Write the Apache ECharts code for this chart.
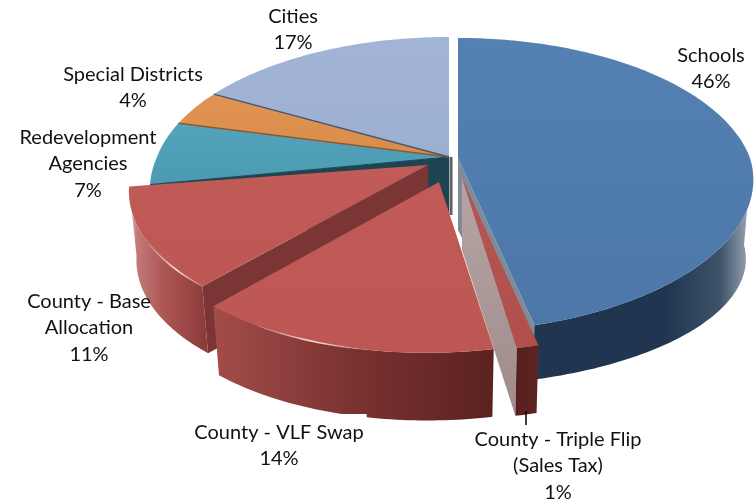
<!DOCTYPE html>
<html><head><meta charset="utf-8">
<style>html,body{margin:0;padding:0;background:#fff}#c{width:755px;height:504px}</style>
<script src="https://cdn.jsdelivr.net/npm/echarts@6/dist/echarts.min.js"></script>
</head><body><div id="c"></div>
<script>
// Data, clockwise from twelve o'clock
const categories = ['Schools','County - Triple Flip\n(Sales Tax)','County - VLF Swap','County - Base\nAllocation','Redevelopment\nAgencies','Special Districts','Cities'];
const shares = [46,1,14,11,7,4,17];

// Appearance, per category (same order)
const G=(stops,x2=1,y2=0)=>new echarts.graphic.LinearGradient(0,0,x2,y2,stops.map((c,i)=>({offset:c[0],color:c[1]})));
const looks = [
 {cx:458,cy:158,depth:83,ky:.83,rank:2,top:G([[0,'#5480b2'],[1,'#4d77a9']],0,1),from:92,cut:'#7f8c98',cutAt:'end',
  wall:G([[0,'#1f3550'],[.6,'#1f3550'],[.85,'#3d5369'],[.96,'#8a97a5'],[1,'#e3e7eb']])},
 {cx:462,cy:178,depth:72,rank:3,top:G([[0,'#b85552'],[1,'#b04f4c']],0,1),from:0,cut:G([[0,'#b7a4a3'],[1,'#a08b8b']],0,1),cutAt:'end',
  wall:G([[0,'#561f1d'],[1,'#5e2422']])},
 {cx:439,cy:179,tipY:182,depth:72,rank:5,top:G([[0,'#c05b58'],[1,'#bc5754']],0,1),from:0,
  wall:G([[0,'#a34d4a'],[.5,'#7a3230'],[1,'#5a2220']]),shine:[.42,.78]},
 {cx:428,cy:159,tipY:165,depth:70,rank:4,top:G([[0,'#c05b58'],[1,'#bc5754']],0,1),from:0,cut:'#7a3534',cutAt:'start',
  wall:G([[0,'#e9cfce'],[.1,'#c27a78'],[.45,'#ad5553'],[1,'#8a3a38']]),shine:[0,.45]},
 {cx:449,cy:157,depth:60,rank:1,top:G([[0,'#52a4ba'],[1,'#4b9ab1']],0,1),cut:'#1d4450',cutAt:'start',seam:'#1d4450'},
 {cx:449,cy:157,depth:60,rank:1,top:G([[0,'#e09352'],[1,'#da8c4b']],0,1),seam:'#8a5a30'},
 {cx:449,cy:157,depth:60,rank:1,top:G([[0,'#a3b5d6'],[1,'#9bafd1']],0,1),seam:'#46566e',strip:'#5a6068'}
];
const labelAt = [[711,55],[558,439],[279,427],[89,301],[88,137],[133,74],[293,16]];

// Tilted-disc projection
const A=292,B=142,P=0.183,S=10,SHRINK=.975,RAD=Math.PI/180;
function rel(deg){const a=deg*RAD,u=Math.sin(a),v=Math.cos(a),w=1+P*v;
  return [(A*u+S*Math.min(v,0))/w,-B*v/w];}
function rim(l,d0,d1){const o=[],n=Math.max(2,Math.ceil(Math.abs(d1-d0)));
  for(let i=0;i<=n;i++){const r=rel(d0+(d1-d0)*i/n);o.push([l.cx+r[0],l.cy+r[1]]);}return o;}
function low(l,p){return [l.cx+(p[0]-l.cx)*SHRINK,l.cy+(p[1]-l.cy)*(l.ky||SHRINK)+l.depth];}

const total=shares.reduce((a,b)=>a+b,0);
const starts=[];shares.reduce((s,v,i)=>{starts[i]=s;return s+v;},0);

function renderItem(params,api){
  const i=params.dataIndex,l=looks[i],v=api.value(0);
  const d0=starts[i]/total*360,d1=d0+v/total*360;
  const z=l.rank*10,kids=[];
  const tip=[l.cx,l.tipY||l.cy];
  const tipLow=[l.cx,(l.tipY||l.cy)+Math.min(l.depth,72)];
  const poly=(pts,fill,zz)=>kids.push({type:'polygon',z2:zz,shape:{points:pts},style:{fill}});
  const edge=rim(l,d0,d1);
  if(l.cut){
    const c=(l.cutAt==='start')?edge[0]:edge[edge.length-1];
    poly([tip,c,low(l,c),tipLow],l.cut,z);
  }
  if(l.wall){
    const top=rim(l,Math.max(d0,l.from),d1);
    poly(top.concat(top.slice().reverse().map(p=>low(l,p))),l.wall,z+1);
  }
  poly([tip].concat(edge),l.top,z+2);
  if(l.shine){
    const n=edge.length-1,part=edge.slice(Math.round(n*l.shine[0]),Math.round(n*l.shine[1])+1);
    kids.push({type:'polyline',z2:z+3,shape:{points:part},style:{fill:null,lineWidth:1.6,
      stroke:G([[0,'rgba(255,225,220,0)'],[.5,'rgba(255,235,230,.9)'],[1,'rgba(255,225,220,0)']])}});
  }
  if(l.seam){
    kids.push({type:'polyline',z2:z+3,shape:{points:[edge[0],tip]},style:{fill:null,stroke:l.seam,lineWidth:i===4?1:1.4}});
  }
  if(l.strip){
    kids.push({type:'line',z2:z+1,shape:{x1:tip[0]+2,y1:tip[1],x2:tip[0]+2,y2:tip[1]+58},style:{stroke:l.strip,lineWidth:3}});
  }
  if(i===1){
    kids.push({type:'line',z2:90,shape:{x1:526,y1:411,x2:526,y2:425},style:{stroke:'#000',lineWidth:1.5}});
  }
  const name=categories[i],at=labelAt[i];
  const txt={type:'text',z2:100,style:{x:at[0],y:at[1]-13,text:name+'\n'+v+'%',align:'center',verticalAlign:'top',
    font:'20px Lato',lineHeight:26.5,fill:'#111'}};
  if(i===2){txt.style.backgroundColor='#fff';txt.style.padding=[5,3,5,3];}
  kids.push(txt);
  return {type:'group',children:kids};
}

const chart=echarts.init(document.getElementById('c'),null,{renderer:'canvas'});
chart.setOption({animation:false,backgroundColor:'#fff',
  series:[{type:'custom',coordinateSystem:'none',renderItem,clip:false,
    data:categories.map((n,i)=>({name:n,value:[shares[i]]}))}]});
</script></body></html>
